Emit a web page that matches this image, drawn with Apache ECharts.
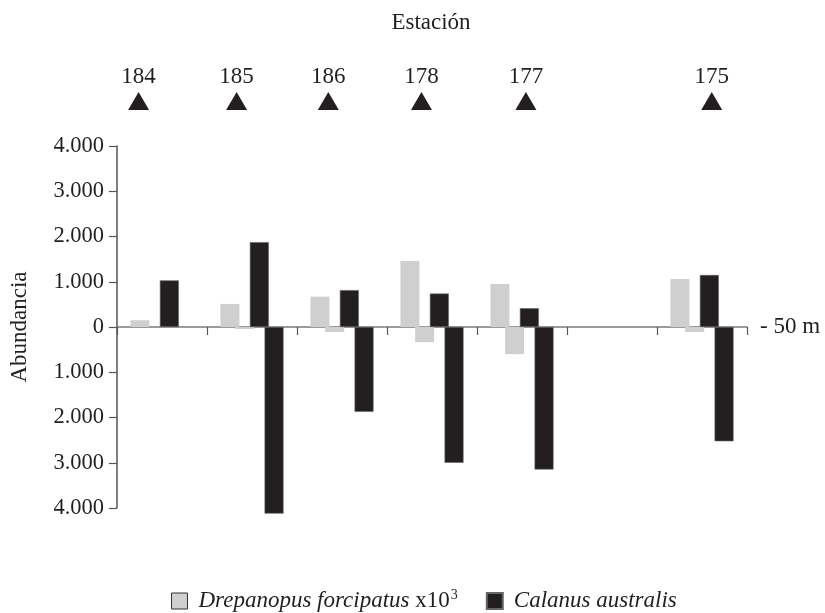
<!DOCTYPE html>
<html>
<head>
<meta charset="utf-8">
<script src="https://cdn.jsdelivr.net/npm/echarts@6/dist/echarts.min.js"></script>
<style>html,body{margin:0;padding:0;background:#fff}#c{width:825px;height:613px}</style>
</head>
<body>
<div id="c"></div>
<script>
// categories (column slots along the transect; slot 6 is empty)
var categories = ['184', '185', '186', '178', '177', '', '175'];
// Drepanopus forcipatus x10^3 (upper / lower layer)
var drepUp   = [150, 510, 670, 1460, 950, null, 1060];
var drepDown = [null, -45, -110, -335, -600, null, -110];
// Calanus australis (upper / lower layer)
var calUp    = [1030, 1875, 815, 740, 415, null, 1150];
var calDown  = [null, -4125, -1875, -3000, -3150, null, -2525];
// station markers (position along the axis in category units)
var stationNames = ['184', '185', '186', '178', '177', '175'];
var stationPos   = [0.272, 1.356, 2.37, 3.40, 4.555, 6.61];

var FONT = 'Liberation Serif';
var INK = '#231f20';
var GRAY = '#cfcfcf';

function fmt(v) {
  var a = Math.abs(v);
  return String(a).replace(/\B(?=(\d{3})+(?!\d))/g, '.');
}

var chart = echarts.init(document.getElementById('c'), null, {renderer: 'canvas'});
var barCommon = {type: 'bar', barWidth: 19, barGap: '-22.6%', clip: false, xAxisIndex: 0, yAxisIndex: 0};

chart.setOption({
  animation: false,
  backgroundColor: '#fff',
  textStyle: {fontFamily: FONT, color: INK},
  graphic: [{
    type: 'text', x: 431, y: 23,
    style: {text: 'Estación', font: '23px "Liberation Serif"', fill: INK, textAlign: 'center', textVerticalAlign: 'middle'}
  }],
  legend: {
    left: 166, top: 583,
    itemWidth: 16, itemHeight: 16, itemGap: 28,
    icon: 'rect',
    data: [
      {name: 'Drepanopus', itemStyle: {color: GRAY, borderColor: '#333', borderWidth: 1}},
      {name: 'Calanus', itemStyle: {color: INK}}
    ],
    formatter: function (n) {
      return n === 'Drepanopus' ? '{i|Drepanopus forcipatus}{n| x10}{s|3}' : '{i|Calanus australis}';
    },
    textStyle: {
      fontFamily: FONT, fontSize: 23, color: INK,
      rich: {
        i: {fontFamily: FONT, fontSize: 23, fontStyle: 'italic', color: INK, padding: [0, 0, 0, 6]},
        n: {fontFamily: FONT, fontSize: 23, color: INK},
        s: {fontFamily: FONT, fontSize: 14, color: INK, padding: [0, 0, 12, 1]}
      }
    }
  },
  grid: [
    {left: 114, right: 78, top: 146, bottom: 105},
    {left: 114, right: 78, top: 91, height: 20}
  ],
  xAxis: [
    {
      type: 'category', data: categories, gridIndex: 0,
      axisLine: {onZero: true, lineStyle: {color: '#7a7a7a', width: 1.5}},
      axisTick: {show: true, length: 8, lineStyle: {color: '#555', width: 1.2}},
      axisLabel: {show: false},
      splitLine: {show: false}
    },
    {type: 'value', gridIndex: 1, min: 0, max: 7, show: false}
  ],
  yAxis: [
    {
      type: 'value', gridIndex: 0, min: -4000, max: 4000, interval: 1000,
      name: 'Abundancia', nameLocation: 'middle', nameGap: 86, nameRotate: 90,
      nameTextStyle: {fontFamily: FONT, fontSize: 23, color: INK},
      axisLine: {show: true, lineStyle: {color: '#555', width: 1.5}},
      axisTick: {show: true, length: 8, lineStyle: {color: '#555', width: 1.2}},
      axisLabel: {fontFamily: FONT, fontSize: 22.5, color: INK, margin: 13, formatter: fmt},
      splitLine: {show: false}
    },
    {
      type: 'value', gridIndex: 0, position: 'right', min: -4000, max: 4000, interval: 1000,
      axisLine: {show: false}, axisTick: {show: false}, splitLine: {show: false},
      axisLabel: {fontFamily: FONT, fontSize: 23, color: INK, margin: 13,
        formatter: function (v) { return v === 0 ? '- 50 m' : ''; }}
    },
    {type: 'value', gridIndex: 1, min: -1, max: 1, show: false}
  ],
  series: [
    Object.assign({name: 'Drepanopus', data: drepUp, itemStyle: {color: GRAY}}, barCommon),
    Object.assign({name: 'Drepanopus', data: drepDown, itemStyle: {color: GRAY}}, barCommon),
    Object.assign({name: 'Calanus', data: calUp, itemStyle: {color: INK, borderColor: '#666', borderWidth: 0.6}}, barCommon),
    Object.assign({name: 'Calanus', data: calDown, itemStyle: {color: INK, borderColor: '#666', borderWidth: 0.6}}, barCommon),
    {
      type: 'scatter', xAxisIndex: 1, yAxisIndex: 2,
      symbol: 'triangle', symbolSize: [21, 18],
      itemStyle: {color: INK, opacity: 1},
      data: stationPos.map(function (p, i) { return {value: [p, 0], name: stationNames[i]}; }),
      label: {show: true, position: 'top', distance: 4, formatter: '{b}',
        fontFamily: FONT, fontSize: 23, color: INK},
      silent: true
    }
  ]
});
</script>
</body>
</html>
